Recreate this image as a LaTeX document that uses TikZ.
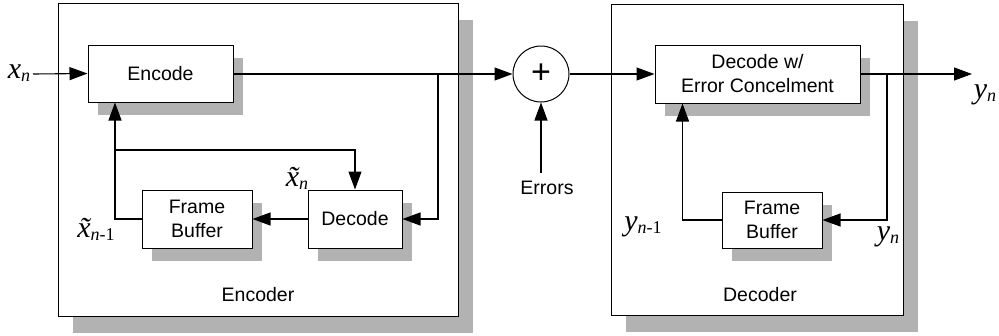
\documentclass[tikz,border=0pt]{standalone}
\usepackage{fontspec}
\setmainfont{Liberation Sans}
\newfontfamily\serifit{Liberation Serif}
\usetikzlibrary{arrows.meta,shadows,calc}

% italic signal labels: symbol with subscript
\newcommand\sig[2]{{\serifit\fontsize{30}{30}\selectfont\itshape #1}\raisebox{-0.3em}{\serifit\fontsize{18}{18}\selectfont #2}}

\tikzset{
  every picture/.style={x=1pt,y=-1pt},
  wire/.style={line width=1.1pt},
  arr/.style={wire,-{Triangle[length=18pt,width=13pt]}},
  blockshadow/.style={drop shadow={shadow xshift=10pt,shadow yshift=-13pt,fill=gray!60,opacity=1}},
  block/.style={draw,line width=1pt,fill=white,align=center,inner sep=0pt,
    font=\fontsize{19.5}{24}\selectfont,blockshadow},
  frameshadow/.style={drop shadow={shadow xshift=15pt,shadow yshift=-17pt,fill=gray!60,opacity=1}},
  outerframe/.style={draw,line width=1pt,fill=white,inner sep=0pt,frameshadow},
  txt/.style={font=\fontsize{19.5}{24}\selectfont,inner sep=0pt},
}

\begin{document}
\begin{tikzpicture}
\useasboundingbox[fill=white] (0,0) rectangle (999,335);

% outer frames of the encoder and the decoder
\node[outerframe,minimum width=400pt,minimum height=313pt] (encframe) at (258,159.5) {};
\node[outerframe,minimum width=292pt,minimum height=311pt] (decframe) at (757,159.5) {};

% encoder blocks
\node[block,minimum width=145pt,minimum height=57pt] (enc) at (160.5,73.5) {Encode};
\node[block,minimum width=110pt,minimum height=58pt] (fb1) at (197,219) {Frame\\Buffer};
\node[block,minimum width=94pt,minimum height=58pt] (dec1) at (355,219) {Decode};

% channel with additive errors
\node[draw,circle,line width=1pt,fill=white,minimum size=56pt,inner sep=0pt,
  font=\fontsize{34}{34}\selectfont] (sum) at (541,74) {+};
\node[txt] (err) at (547,188) {Errors};

% decoder blocks
\node[block,minimum width=205pt,minimum height=58pt] (dwe) at (757.5,74) {Decode w/\\Error Concelment};
\node[block,minimum width=100pt,minimum height=56pt] (fb2) at (772,220) {Frame\\Buffer};

% frame captions
\node[txt] (enccap) at (258,295) {Encoder};
\node[txt] (deccap) at (760,295) {Decoder};

% signal labels
\node[inner sep=0pt] (xn) at (19,73) {\sig{x}{\itshape n}};
\node[inner sep=0pt] (xtn) at (297,178) {\sig{\~x}{\itshape n}};
\node[inner sep=0pt] (xtn1) at (96,229) {\sig{\~x}{{\itshape n}-1}};
\node[inner sep=0pt] (yn1) at (643,227) {\sig{y}{{\itshape n}-1}};
\node[inner sep=0pt] (yn2) at (888,237) {\sig{y}{\itshape n}};
\node[inner sep=0pt] (ynout) at (985,95) {\sig{y}{\itshape n}};

% junction points
\coordinate (xin) at (33,74);
\coordinate (br1) at (438,74);
\coordinate (j1) at (115,150);
\coordinate (br2) at (887,74);
\coordinate (yout) at (972,74);
\coordinate (fbup) at ($(dwe.south west)+(28,0)$);

% encoder connections
\draw[arr] (xin) -- (enc.west);
\draw[arr] (enc.east |- br1) -- (sum.west);
\draw[arr] (br1) |- (dec1.east);
\draw[arr] (dec1.west) -- (fb1.east);
\draw[arr] (fb1.west) -| (enc.south -| j1);
\draw[arr] (j1) -| (dec1.north);

% channel
\draw[arr] (sum.south |- err.north) ++(0,-8) -- (sum.south);
\draw[arr] (sum.east) -- (dwe.west);

% decoder connections
\draw[arr] (dwe.east) -- (yout);
\draw[arr] (br2) |- (fb2.east);
\draw[arr] (fb2.west) -| (fbup);
\end{tikzpicture}
\end{document}
